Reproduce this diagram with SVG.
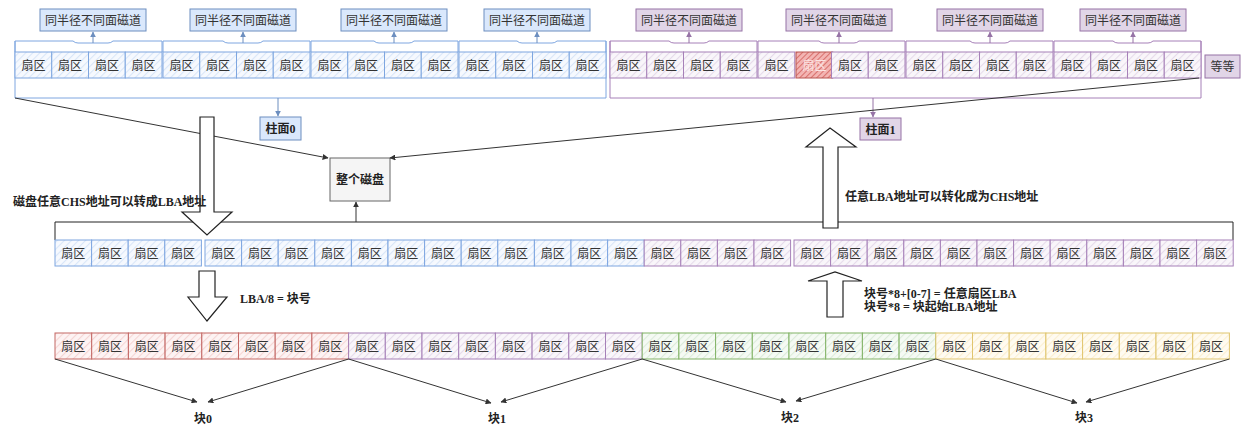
<svg xmlns="http://www.w3.org/2000/svg" width="1243" height="427" viewBox="0 0 1243 427">
<defs>
<pattern id="hb" width="5" height="5" patternUnits="userSpaceOnUse" patternTransform="rotate(45)"><rect width="5" height="5" fill="#f6f9fe"/><line x1="0.5" y1="0" x2="0.5" y2="5" stroke="#d9e6f8" stroke-width="1.2"/></pattern>
<pattern id="hp" width="5" height="5" patternUnits="userSpaceOnUse" patternTransform="rotate(45)"><rect width="5" height="5" fill="#f9f6fa"/><line x1="0.5" y1="0" x2="0.5" y2="5" stroke="#e6dbeb" stroke-width="1.2"/></pattern>
<pattern id="hr" width="5" height="5" patternUnits="userSpaceOnUse" patternTransform="rotate(45)"><rect width="5" height="5" fill="#fdf3f3"/><line x1="0.5" y1="0" x2="0.5" y2="5" stroke="#f5d5d4" stroke-width="1.2"/></pattern>
<pattern id="hg" width="5" height="5" patternUnits="userSpaceOnUse" patternTransform="rotate(45)"><rect width="5" height="5" fill="#f5faf4"/><line x1="0.5" y1="0" x2="0.5" y2="5" stroke="#dcecda" stroke-width="1.2"/></pattern>
<pattern id="hy" width="5" height="5" patternUnits="userSpaceOnUse" patternTransform="rotate(45)"><rect width="5" height="5" fill="#fffbf1"/><line x1="0.5" y1="0" x2="0.5" y2="5" stroke="#fbefd0" stroke-width="1.2"/></pattern>
<pattern id="hx" width="4" height="4" patternUnits="userSpaceOnUse" patternTransform="rotate(45)"><rect width="4" height="4" fill="#f3b5b3"/><line x1="0.5" y1="0" x2="0.5" y2="4" stroke="#d9716d" stroke-width="1.1"/></pattern>
<marker id="mb" viewBox="0 0 10 10" refX="9" refY="5" markerWidth="6" markerHeight="6" markerUnits="userSpaceOnUse" orient="auto"><path d="M0,0 L10,5 L0,10 Z" fill="#6c8ebf"/></marker>
<marker id="mp" viewBox="0 0 10 10" refX="9" refY="5" markerWidth="6" markerHeight="6" markerUnits="userSpaceOnUse" orient="auto"><path d="M0,0 L10,5 L0,10 Z" fill="#9673a6"/></marker>
<marker id="md" viewBox="0 0 10 10" refX="9" refY="5" markerWidth="6" markerHeight="6" markerUnits="userSpaceOnUse" orient="auto"><path d="M0,0 L10,5 L0,10 Z" fill="#333"/></marker>
</defs>
<style>
.sb{fill:url(#hb);stroke:#7ea6e0;stroke-width:1}
.sp{fill:url(#hp);stroke:#a680b8;stroke-width:1}
.sr{fill:url(#hr);stroke:#c46865;stroke-width:1}
.sg{fill:url(#hg);stroke:#82b366;stroke-width:1}
.sy{fill:url(#hy);stroke:#e0c56e;stroke-width:1}
.sx{fill:url(#hx);stroke:#b85450;stroke-width:1}
.st{font-family:"Noto Sans CJK SC",sans-serif;font-size:12px;fill:#333;text-anchor:middle}
.lb{fill:#dae8fc;stroke:#6c8ebf;stroke-width:1}
.lp{fill:#e1d5e7;stroke:#9673a6;stroke-width:1}
.lt{font-family:"Noto Sans CJK SC",sans-serif;font-size:12px;fill:#333;text-anchor:middle}
.bt{font-family:"Liberation Serif","Noto Sans CJK SC",serif;font-weight:bold;font-size:12px;fill:#222}
.btm{font-family:"Liberation Serif","Noto Sans CJK SC",serif;font-weight:bold;font-size:12px;fill:#222;text-anchor:middle}
.brb{fill:none;stroke:#7ea6e0;stroke-width:1}
.brp{fill:none;stroke:#a680b8;stroke-width:1}
.cb{fill:none;stroke:#6c8ebf;stroke-width:1;marker-end:url(#mb)}
.cp{fill:none;stroke:#9673a6;stroke-width:1;marker-end:url(#mp)}
.cd{fill:none;stroke:#333;stroke-width:1;marker-end:url(#md)}
.ha{fill:#fff;stroke:#222;stroke-width:1.2;stroke-linejoin:miter}
</style>
<rect width="1243" height="427" fill="#fff"/>

<!-- track labels -->
<g id="label-b0"><rect class="lb" x="40" y="9" width="106" height="22"/><text class="lt" x="93" y="24.5">同半径不同面磁道</text></g>
<g id="label-b1"><rect class="lb" x="190" y="9" width="106" height="22"/><text class="lt" x="243" y="24.5">同半径不同面磁道</text></g>
<g id="label-b2"><rect class="lb" x="341" y="9" width="106" height="22"/><text class="lt" x="394" y="24.5">同半径不同面磁道</text></g>
<g id="label-b3"><rect class="lb" x="484" y="9" width="106" height="22"/><text class="lt" x="537" y="24.5">同半径不同面磁道</text></g>
<g id="label-p0"><rect class="lp" x="636" y="9" width="106" height="22"/><text class="lt" x="689" y="24.5">同半径不同面磁道</text></g>
<g id="label-p1"><rect class="lp" x="786" y="9" width="106" height="22"/><text class="lt" x="839" y="24.5">同半径不同面磁道</text></g>
<g id="label-p2"><rect class="lp" x="937" y="9" width="106" height="22"/><text class="lt" x="990" y="24.5">同半径不同面磁道</text></g>
<g id="label-p3"><rect class="lp" x="1080" y="9" width="106" height="22"/><text class="lt" x="1133" y="24.5">同半径不同面磁道</text></g>

<!-- brackets -->
<g id="brackets">
<path class="brb" d="M15,52 V41 H73 Q75,43 78,43 H108 Q111,43 113,41 H162 V52"/>
<path class="brb" d="M163,52 V41 H223 Q225,43 228,43 H258 Q261,43 263,41 H310 V52"/>
<path class="brb" d="M311,52 V41 H374 Q376,43 379,43 H409 Q412,43 414,41 H458 V52"/>
<path class="brb" d="M459,52 V41 H517 Q519,43 522,43 H552 Q555,43 557,41 H606 V52"/>
<path class="brb" d="M15,41 V98 H606 V41"/>
<path class="brp" d="M610,52 V41 H669 Q671,43 674,43 H704 Q707,43 709,41 H757 V52"/>
<path class="brp" d="M758,52 V41 H819 Q821,43 824,43 H854 Q857,43 859,41 H905 V52"/>
<path class="brp" d="M906,52 V41 H970 Q972,43 975,43 H1005 Q1008,43 1010,41 H1053 V52"/>
<path class="brp" d="M1054,52 V41 H1113 Q1115,43 1118,43 H1148 Q1151,43 1153,41 H1201 V52"/>
<path class="brp" d="M610,41 V98 H1201 V41"/>
<path fill="none" stroke="#222" stroke-width="1" d="M55,240 V222 H1233 V240"/>
</g>

<!-- top sectors, blue cylinder -->
<g id="t0s0"><rect class="sb" x="15" y="52" width="36.75" height="26"/><text class="st" x="33.4" y="69.5">扇区</text></g>
<g id="t0s1"><rect class="sb" x="51.75" y="52" width="36.75" height="26"/><text class="st" x="70.1" y="69.5">扇区</text></g>
<g id="t0s2"><rect class="sb" x="88.5" y="52" width="36.75" height="26"/><text class="st" x="106.9" y="69.5">扇区</text></g>
<g id="t0s3"><rect class="sb" x="125.25" y="52" width="36.75" height="26"/><text class="st" x="143.6" y="69.5">扇区</text></g>
<g id="t1s0"><rect class="sb" x="163" y="52" width="36.75" height="26"/><text class="st" x="181.4" y="69.5">扇区</text></g>
<g id="t1s1"><rect class="sb" x="199.75" y="52" width="36.75" height="26"/><text class="st" x="218.1" y="69.5">扇区</text></g>
<g id="t1s2"><rect class="sb" x="236.5" y="52" width="36.75" height="26"/><text class="st" x="254.9" y="69.5">扇区</text></g>
<g id="t1s3"><rect class="sb" x="273.25" y="52" width="36.75" height="26"/><text class="st" x="291.6" y="69.5">扇区</text></g>
<g id="t2s0"><rect class="sb" x="311" y="52" width="36.75" height="26"/><text class="st" x="329.4" y="69.5">扇区</text></g>
<g id="t2s1"><rect class="sb" x="347.75" y="52" width="36.75" height="26"/><text class="st" x="366.1" y="69.5">扇区</text></g>
<g id="t2s2"><rect class="sb" x="384.5" y="52" width="36.75" height="26"/><text class="st" x="402.9" y="69.5">扇区</text></g>
<g id="t2s3"><rect class="sb" x="421.25" y="52" width="36.75" height="26"/><text class="st" x="439.6" y="69.5">扇区</text></g>
<g id="t3s0"><rect class="sb" x="459" y="52" width="36.75" height="26"/><text class="st" x="477.4" y="69.5">扇区</text></g>
<g id="t3s1"><rect class="sb" x="495.75" y="52" width="36.75" height="26"/><text class="st" x="514.1" y="69.5">扇区</text></g>
<g id="t3s2"><rect class="sb" x="532.5" y="52" width="36.75" height="26"/><text class="st" x="550.9" y="69.5">扇区</text></g>
<g id="t3s3"><rect class="sb" x="569.25" y="52" width="36.75" height="26"/><text class="st" x="587.6" y="69.5">扇区</text></g>

<!-- top sectors, purple cylinder -->
<g id="t4s0"><rect class="sp" x="610" y="52" width="36.75" height="26"/><text class="st" x="628.4" y="69.5">扇区</text></g>
<g id="t4s1"><rect class="sp" x="646.75" y="52" width="36.75" height="26"/><text class="st" x="665.1" y="69.5">扇区</text></g>
<g id="t4s2"><rect class="sp" x="683.5" y="52" width="36.75" height="26"/><text class="st" x="701.9" y="69.5">扇区</text></g>
<g id="t4s3"><rect class="sp" x="720.25" y="52" width="36.75" height="26"/><text class="st" x="738.6" y="69.5">扇区</text></g>
<g id="t5s0"><rect class="sp" x="758" y="52" width="36.75" height="26"/><text class="st" x="776.4" y="69.5">扇区</text></g>
<g id="t5s1"><rect class="sx" x="796" y="52" width="36.75" height="26"/><text class="st" x="814.4" y="69.5" style="fill:#fbe3e2">扇区</text></g>
<g id="t5s2"><rect class="sp" x="831.5" y="52" width="36.75" height="26"/><text class="st" x="849.9" y="69.5">扇区</text></g>
<g id="t5s3"><rect class="sp" x="868.25" y="52" width="36.75" height="26"/><text class="st" x="886.6" y="69.5">扇区</text></g>
<g id="t6s0"><rect class="sp" x="906" y="52" width="36.75" height="26"/><text class="st" x="924.4" y="69.5">扇区</text></g>
<g id="t6s1"><rect class="sp" x="942.75" y="52" width="36.75" height="26"/><text class="st" x="961.1" y="69.5">扇区</text></g>
<g id="t6s2"><rect class="sp" x="979.5" y="52" width="36.75" height="26"/><text class="st" x="997.9" y="69.5">扇区</text></g>
<g id="t6s3"><rect class="sp" x="1016.25" y="52" width="36.75" height="26"/><text class="st" x="1034.6" y="69.5">扇区</text></g>
<g id="t7s0"><rect class="sp" x="1054" y="52" width="36.75" height="26"/><text class="st" x="1072.4" y="69.5">扇区</text></g>
<g id="t7s1"><rect class="sp" x="1090.75" y="52" width="36.75" height="26"/><text class="st" x="1109.1" y="69.5">扇区</text></g>
<g id="t7s2"><rect class="sp" x="1127.5" y="52" width="36.75" height="26"/><text class="st" x="1145.9" y="69.5">扇区</text></g>
<g id="t7s3"><rect class="sp" x="1164.25" y="52" width="36.75" height="26"/><text class="st" x="1182.6" y="69.5">扇区</text></g>

<g id="etc"><rect class="lp" x="1205" y="55" width="35" height="23"/><text class="lt" x="1222.5" y="71">等等</text></g>
<g id="cyl0"><rect class="lb" x="260" y="117" width="41" height="23"/><text class="btm" x="280.5" y="133">柱面0</text></g>
<g id="cyl1"><rect class="lp" x="860" y="118" width="41" height="22"/><text class="btm" x="880.5" y="133.5">柱面1</text></g>
<g id="disk"><rect x="330" y="158" width="60" height="43" fill="#f5f5f5" stroke="#666" stroke-width="1"/><text class="btm" x="360" y="184">整个磁盘</text></g>

<!-- middle LBA row -->
<g id="m0"><rect class="sb" x="55" y="240" width="36.6" height="26"/><text class="st" x="73.3" y="257.5">扇区</text></g>
<g id="m1"><rect class="sb" x="91.6" y="240" width="36.6" height="26"/><text class="st" x="109.9" y="257.5">扇区</text></g>
<g id="m2"><rect class="sb" x="128.2" y="240" width="36.6" height="26"/><text class="st" x="146.5" y="257.5">扇区</text></g>
<g id="m3"><rect class="sb" x="164.8" y="240" width="36.6" height="26"/><text class="st" x="183.1" y="257.5">扇区</text></g>
<g id="m4"><rect class="sb" x="205" y="240" width="36.6" height="26"/><text class="st" x="223.3" y="257.5">扇区</text></g>
<g id="m5"><rect class="sb" x="241.6" y="240" width="36.6" height="26"/><text class="st" x="259.9" y="257.5">扇区</text></g>
<g id="m6"><rect class="sb" x="278.2" y="240" width="36.6" height="26"/><text class="st" x="296.5" y="257.5">扇区</text></g>
<g id="m7"><rect class="sb" x="314.8" y="240" width="36.6" height="26"/><text class="st" x="333.1" y="257.5">扇区</text></g>
<g id="m8"><rect class="sb" x="351.4" y="240" width="36.6" height="26"/><text class="st" x="369.7" y="257.5">扇区</text></g>
<g id="m9"><rect class="sb" x="388" y="240" width="36.6" height="26"/><text class="st" x="406.3" y="257.5">扇区</text></g>
<g id="m10"><rect class="sb" x="424.6" y="240" width="36.6" height="26"/><text class="st" x="442.9" y="257.5">扇区</text></g>
<g id="m11"><rect class="sb" x="461.2" y="240" width="36.6" height="26"/><text class="st" x="479.5" y="257.5">扇区</text></g>
<g id="m12"><rect class="sb" x="497.8" y="240" width="36.6" height="26"/><text class="st" x="516.1" y="257.5">扇区</text></g>
<g id="m13"><rect class="sb" x="534.4" y="240" width="36.6" height="26"/><text class="st" x="552.7" y="257.5">扇区</text></g>
<g id="m14"><rect class="sb" x="571" y="240" width="36.6" height="26"/><text class="st" x="589.3" y="257.5">扇区</text></g>
<g id="m15"><rect class="sb" x="607.6" y="240" width="36.6" height="26"/><text class="st" x="625.9" y="257.5">扇区</text></g>
<g id="m16"><rect class="sp" x="644.2" y="240" width="36.6" height="26"/><text class="st" x="662.5" y="257.5">扇区</text></g>
<g id="m17"><rect class="sp" x="680.8" y="240" width="36.6" height="26"/><text class="st" x="699.1" y="257.5">扇区</text></g>
<g id="m18"><rect class="sp" x="717.4" y="240" width="36.6" height="26"/><text class="st" x="735.7" y="257.5">扇区</text></g>
<g id="m19"><rect class="sp" x="754" y="240" width="36.6" height="26"/><text class="st" x="772.3" y="257.5">扇区</text></g>
<g id="m20"><rect class="sp" x="794" y="240" width="36.6" height="26"/><text class="st" x="812.3" y="257.5">扇区</text></g>
<g id="m21"><rect class="sp" x="830.6" y="240" width="36.6" height="26"/><text class="st" x="848.9" y="257.5">扇区</text></g>
<g id="m22"><rect class="sp" x="867.2" y="240" width="36.6" height="26"/><text class="st" x="885.5" y="257.5">扇区</text></g>
<g id="m23"><rect class="sp" x="903.8" y="240" width="36.6" height="26"/><text class="st" x="922.1" y="257.5">扇区</text></g>
<g id="m24"><rect class="sp" x="940.4" y="240" width="36.6" height="26"/><text class="st" x="958.7" y="257.5">扇区</text></g>
<g id="m25"><rect class="sp" x="977" y="240" width="36.6" height="26"/><text class="st" x="995.3" y="257.5">扇区</text></g>
<g id="m26"><rect class="sp" x="1013.6" y="240" width="36.6" height="26"/><text class="st" x="1031.9" y="257.5">扇区</text></g>
<g id="m27"><rect class="sp" x="1050.2" y="240" width="36.6" height="26"/><text class="st" x="1068.5" y="257.5">扇区</text></g>
<g id="m28"><rect class="sp" x="1086.8" y="240" width="36.6" height="26"/><text class="st" x="1105.1" y="257.5">扇区</text></g>
<g id="m29"><rect class="sp" x="1123.4" y="240" width="36.6" height="26"/><text class="st" x="1141.7" y="257.5">扇区</text></g>
<g id="m30"><rect class="sp" x="1160" y="240" width="36.6" height="26"/><text class="st" x="1178.3" y="257.5">扇区</text></g>
<g id="m31"><rect class="sp" x="1196.6" y="240" width="36.6" height="26"/><text class="st" x="1214.9" y="257.5">扇区</text></g>

<!-- bottom block row -->
<g id="b0"><rect class="sr" x="55" y="333" width="36.7" height="26"/><text class="st" x="73.35" y="350.5">扇区</text></g>
<g id="b1"><rect class="sr" x="91.7" y="333" width="36.7" height="26"/><text class="st" x="110.05" y="350.5">扇区</text></g>
<g id="b2"><rect class="sr" x="128.4" y="333" width="36.7" height="26"/><text class="st" x="146.75" y="350.5">扇区</text></g>
<g id="b3"><rect class="sr" x="165.1" y="333" width="36.7" height="26"/><text class="st" x="183.45" y="350.5">扇区</text></g>
<g id="b4"><rect class="sr" x="201.8" y="333" width="36.7" height="26"/><text class="st" x="220.15" y="350.5">扇区</text></g>
<g id="b5"><rect class="sr" x="238.5" y="333" width="36.7" height="26"/><text class="st" x="256.85" y="350.5">扇区</text></g>
<g id="b6"><rect class="sr" x="275.2" y="333" width="36.7" height="26"/><text class="st" x="293.55" y="350.5">扇区</text></g>
<g id="b7"><rect class="sr" x="311.9" y="333" width="36.7" height="26"/><text class="st" x="330.25" y="350.5">扇区</text></g>
<g id="b8"><rect class="sp" x="348.6" y="333" width="36.7" height="26"/><text class="st" x="366.95" y="350.5">扇区</text></g>
<g id="b9"><rect class="sp" x="385.3" y="333" width="36.7" height="26"/><text class="st" x="403.65" y="350.5">扇区</text></g>
<g id="b10"><rect class="sp" x="422" y="333" width="36.7" height="26"/><text class="st" x="440.35" y="350.5">扇区</text></g>
<g id="b11"><rect class="sp" x="458.7" y="333" width="36.7" height="26"/><text class="st" x="477.05" y="350.5">扇区</text></g>
<g id="b12"><rect class="sp" x="495.4" y="333" width="36.7" height="26"/><text class="st" x="513.75" y="350.5">扇区</text></g>
<g id="b13"><rect class="sp" x="532.1" y="333" width="36.7" height="26"/><text class="st" x="550.45" y="350.5">扇区</text></g>
<g id="b14"><rect class="sp" x="568.8" y="333" width="36.7" height="26"/><text class="st" x="587.15" y="350.5">扇区</text></g>
<g id="b15"><rect class="sp" x="605.5" y="333" width="36.7" height="26"/><text class="st" x="623.85" y="350.5">扇区</text></g>
<g id="b16"><rect class="sg" x="642.2" y="333" width="36.7" height="26"/><text class="st" x="660.55" y="350.5">扇区</text></g>
<g id="b17"><rect class="sg" x="678.9" y="333" width="36.7" height="26"/><text class="st" x="697.25" y="350.5">扇区</text></g>
<g id="b18"><rect class="sg" x="715.6" y="333" width="36.7" height="26"/><text class="st" x="733.95" y="350.5">扇区</text></g>
<g id="b19"><rect class="sg" x="752.3" y="333" width="36.7" height="26"/><text class="st" x="770.65" y="350.5">扇区</text></g>
<g id="b20"><rect class="sg" x="789" y="333" width="36.7" height="26"/><text class="st" x="807.35" y="350.5">扇区</text></g>
<g id="b21"><rect class="sg" x="825.7" y="333" width="36.7" height="26"/><text class="st" x="844.05" y="350.5">扇区</text></g>
<g id="b22"><rect class="sg" x="862.4" y="333" width="36.7" height="26"/><text class="st" x="880.75" y="350.5">扇区</text></g>
<g id="b23"><rect class="sg" x="899.1" y="333" width="36.7" height="26"/><text class="st" x="917.45" y="350.5">扇区</text></g>
<g id="b24"><rect class="sy" x="935.8" y="333" width="36.7" height="26"/><text class="st" x="954.15" y="350.5">扇区</text></g>
<g id="b25"><rect class="sy" x="972.5" y="333" width="36.7" height="26"/><text class="st" x="990.85" y="350.5">扇区</text></g>
<g id="b26"><rect class="sy" x="1009.2" y="333" width="36.7" height="26"/><text class="st" x="1027.55" y="350.5">扇区</text></g>
<g id="b27"><rect class="sy" x="1045.9" y="333" width="36.7" height="26"/><text class="st" x="1064.25" y="350.5">扇区</text></g>
<g id="b28"><rect class="sy" x="1082.6" y="333" width="36.7" height="26"/><text class="st" x="1100.95" y="350.5">扇区</text></g>
<g id="b29"><rect class="sy" x="1119.3" y="333" width="36.7" height="26"/><text class="st" x="1137.65" y="350.5">扇区</text></g>
<g id="b30"><rect class="sy" x="1156" y="333" width="36.7" height="26"/><text class="st" x="1174.35" y="350.5">扇区</text></g>
<g id="b31"><rect class="sy" x="1192.7" y="333" width="36.7" height="26"/><text class="st" x="1211.05" y="350.5">扇区</text></g>

<!-- block labels -->
<g id="blk0"><text class="btm" x="203" y="423">块0</text></g>
<g id="blk1"><text class="btm" x="497" y="423">块1</text></g>
<g id="blk2"><text class="btm" x="790" y="422">块2</text></g>
<g id="blk3"><text class="btm" x="1084" y="422">块3</text></g>

<!-- connectors -->
<g id="connectors">
<line class="cb" x1="93" y1="43" x2="93" y2="32"/>
<line class="cb" x1="243" y1="43" x2="243" y2="32"/>
<line class="cb" x1="394" y1="43" x2="394" y2="32"/>
<line class="cb" x1="537" y1="43" x2="537" y2="32"/>
<line class="cp" x1="689" y1="43" x2="689" y2="32"/>
<line class="cp" x1="839" y1="43" x2="839" y2="32"/>
<line class="cp" x1="990" y1="43" x2="990" y2="32"/>
<line class="cp" x1="1133" y1="43" x2="1133" y2="32"/>
<line class="cb" x1="278" y1="98" x2="278" y2="116"/>
<line class="cp" x1="873" y1="98" x2="873" y2="117"/>
<line class="cd" x1="15" y1="98" x2="328" y2="158"/>
<line class="cd" x1="1199" y1="78" x2="390" y2="158"/>
<line class="cd" x1="356" y1="222" x2="356" y2="202"/>
<line class="cd" x1="55" y1="359" x2="197" y2="402"/>
<line class="cd" x1="348.6" y1="359" x2="208" y2="402"/>
<line class="cd" x1="348.6" y1="359" x2="491" y2="403"/>
<line class="cd" x1="642.2" y1="359" x2="501" y2="402"/>
<line class="cd" x1="642.2" y1="359" x2="786" y2="402"/>
<line class="cd" x1="935.8" y1="359" x2="796" y2="401"/>
<line class="cd" x1="935.8" y1="359" x2="1077" y2="403"/>
<line class="cd" x1="1229.4" y1="359" x2="1086" y2="402"/>
<path class="ha" d="M200,117 H214 V212 H232 L207,235 L182,212 H200 Z"/>
<path class="ha" d="M823,228 V147 H806 L830,128 L856,147 H838 V228 Z"/>
<path class="ha" d="M199,271 H215 V297 H227 L207,321 L188,297 H199 Z"/>
<path class="ha" d="M827,317 V281 H808 L835,272 L862,281 H843 V317 Z"/>
</g>

<!-- annotation texts -->
<g id="note-chs2lba"><text class="bt" x="13" y="206">磁盘任意CHS地址可以转成LBA地址</text></g>
<g id="note-lba2chs"><text class="bt" x="845" y="201">任意LBA地址可以转化成为CHS地址</text></g>
<g id="note-div"><text class="bt" x="240" y="303">LBA/8 = 块号</text></g>
<g id="note-mul"><text class="bt" x="864" y="298">块号*8+[0-7] = 任意扇区LBA</text><text class="bt" x="864" y="311">块号*8 = 块起始LBA地址</text></g>
</svg>
